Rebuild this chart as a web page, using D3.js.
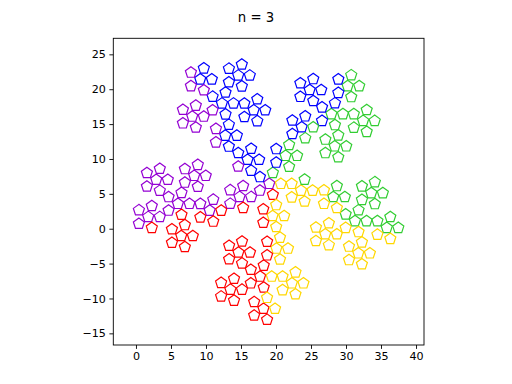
<!DOCTYPE html>
<html>
<head>
<meta charset="utf-8">
<script src="https://cdn.jsdelivr.net/npm/d3@7"></script>
<style>
  body { margin: 0; background: #fff; }
  svg { display: block; font-family: "DejaVu Sans", sans-serif; }
</style>
</head>
<body>
<div id="chart"></div>
<script>
// n = 3 pentagon flake, five coloured arms
const title = "n = 3";
const flakeCenter = [19.04, 6.44];
const levelRadius = [13.36, 4.64, 1.65];   // offset length of each level, big to small
const levelAngle = [-23.6, -12.1, 0];       // direction of copy 0 on each level (deg)
const colorOf = { Y: "#ffd700", G: "#32cd32", B: "#0000ff", P: "#9400d3", R: "#ff0000" };
// colours read per small cluster, key = big copy + middle copy ("c" = centre copy),
// letters = centre pentagon, then copy 0..4
const clusterColors = {
    cc: "PYGBPR", c0: "YYGYYY", c1: "GGGBBG", c2: "BBBBPB", c3: "PPPPPR", c4: "YYYRRY",
    "0c": "GGGGYY", "00": "GGGGYY", "01": "GGGGGG", "02": "GGGYYY", "03": "YYYYYY", "04": "YYYYYY",
    "1c": "GGBBBG", "10": "GGGGGG", "11": "GGGBBG", "12": "BBBBBB", "13": "BGBBBG", "14": "GGGGGG",
    "2c": "BBBBPB", "20": "BBBBBB", "21": "BBBBBB", "22": "BBBPPP", "23": "PPPPPP", "24": "BBBPPB",
    "3c": "PPPPPR", "30": "PRPPRR", "31": "PPPPPP", "32": "PPPPPP", "33": "PPPPPR", "34": "RRRRRR",
    "4c": "RYRRRR", "40": "YYYYYY", "41": "YYYRRY", "42": "RRRRRR", "43": "RRRRRR", "44": "RYYRRR"
};
const xTicks = [0, 5, 10, 15, 20, 25, 30, 35, 40];
const yTicks = [-15, -10, -5, 0, 5, 10, 15, 20, 25];
const xDomain = [-3.24, 41.14];
const yDomain = [-16.67, 27.30];

const width = 512, height = 384;
const plot = { left: 113.3, right: 424, top: 38.3, bottom: 345 };
const markerRadius = 5.8;

// every pentagon: centre copy or copy 0..4 on each of the three levels
const choices = ["c", 0, 1, 2, 3, 4];
const data = [];
choices.forEach(a => choices.forEach(b => choices.forEach(c => {
    let px = 0, py = 0;
    [a, b, c].forEach((k, i) => {
        if (k === "c") return;
        const ang = (levelAngle[i] + 72 * k) * Math.PI / 180;
        px += levelRadius[i] * Math.cos(ang);
        py += levelRadius[i] * Math.sin(ang);
    });
    const letter = clusterColors[`${a}${b}`][c === "c" ? 0 : c + 1];
    data.push({ x: flakeCenter[0] + px, y: flakeCenter[1] + py, color: colorOf[letter] });
})));

const svg = d3.select("#chart")
    .append("svg")
    .attr("width", width)
    .attr("height", height);

svg.append("rect")
    .attr("width", width)
    .attr("height", height)
    .attr("fill", "#fff");

const x = d3.scaleLinear().domain(xDomain).range([plot.left, plot.right]);
const y = d3.scaleLinear().domain(yDomain).range([plot.bottom, plot.top]);

// Titulo
svg.append("text")
    .attr("x", 256)
    .attr("y", 21.7)
    .attr("text-anchor", "middle")
    .style("font-size", "13.3px")
    .style("fill", "#000")
    .text(title);

// Pentagonos
const pentagon = d3.range(5).map(k => {
    const a = (90 + 72 * k) * Math.PI / 180;
    return [markerRadius * Math.cos(a), -markerRadius * Math.sin(a)];
});
const pentPath = d3.line()(pentagon) + "Z";

svg.append("g")
    .selectAll("path")
    .data(data)
    .enter().append("path")
    .attr("d", pentPath)
    .attr("transform", d => `translate(${x(d.x)}, ${y(d.y)})`)
    .attr("fill", "none")
    .attr("stroke", d => d.color)
    .attr("stroke-width", 1.2)
    .attr("stroke-linejoin", "miter");

// Ejes
const xAxis = svg.append("g")
    .attr("transform", `translate(0, ${plot.bottom})`)
    .call(d3.axisBottom(x).tickValues(xTicks).tickSize(3.9).tickPadding(3.5).tickSizeOuter(0));

const yAxis = svg.append("g")
    .attr("transform", `translate(${plot.left}, 0)`)
    .call(d3.axisLeft(y).tickValues(yTicks).tickSize(3.9).tickPadding(3.5).tickSizeOuter(0));

[xAxis, yAxis].forEach(g => {
    g.select(".domain").remove();
    g.selectAll("line").attr("stroke", "#000").attr("stroke-width", 0.9);
    g.selectAll("text")
        .style("font-family", "DejaVu Sans, sans-serif")
        .style("font-size", "11.1px")
        .attr("fill", "#000");
});

svg.append("rect")
    .attr("x", plot.left)
    .attr("y", plot.top)
    .attr("width", plot.right - plot.left)
    .attr("height", plot.bottom - plot.top)
    .attr("fill", "none")
    .attr("stroke", "#000")
    .attr("stroke-width", 0.9);
</script>
</body>
</html>
